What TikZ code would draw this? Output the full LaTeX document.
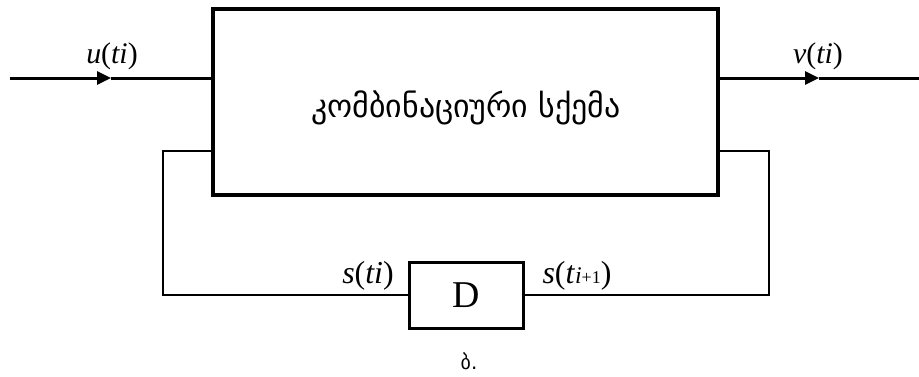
\documentclass[tikz,border=0pt]{standalone}
\usepackage{fontspec}
\setmainfont{Liberation Serif}
\newfontfamily\geofont[Script=Georgian]{DejaVu Sans}
\usetikzlibrary{arrows.meta}
\definecolor{ink}{HTML}{000000}

\begin{document}
\begin{tikzpicture}[x=1bp,y=-1bp,
  blockbox/.style={draw=ink,line width=3.2bp,inner sep=0pt},
  wire/.style={draw=ink,line width=3bp},
  loopwire/.style={draw=ink,line width=2bp},
  midtip/.style={-{Triangle[length=14bp,width=13bp]}},
  lbl/.style={anchor=base,inner sep=0pt,font=\fontsize{30}{34}\selectfont}]
\useasboundingbox (0,0) rectangle (919,376);
\node[blockbox,minimum width=505bp,minimum height=186bp] (comb) at (465.5,102) {};
\node[anchor=base,inner sep=0pt,font=\geofont\fontsize{32}{36}\selectfont] (combtxt) at (466,117) {კომბინაციური სქემა};
\node[blockbox,line width=3bp,minimum width=114bp,minimum height=66bp,font=\fontsize{38}{42}\selectfont] (delay) at (466,295) {D};
\coordinate (in) at (10,78);
\coordinate (inarr) at (111,78);
\coordinate (out) at (919,78);
\coordinate (outarr) at (819,78);
\coordinate (fbL) at (163,151);
\coordinate (fbR) at (769,151);
\draw[wire,midtip] (in) -- (inarr);
\draw[wire] (inarr) -- (comb.west |- in);
\draw[wire,midtip] (comb.east |- out) -- (outarr);
\draw[wire] (outarr) -- (out);
\draw[loopwire] (comb.west |- fbL) -- (fbL) |- (delay.west);
\draw[loopwire] (comb.east |- fbR) -- (fbR) |- (delay.east);
\node[lbl] (ulbl) at (112,63) {\textit{u}(\textit{ti})};
\node[lbl] (vlbl) at (818,63) {\textit{v}(\textit{ti})};
\node[lbl,font=\fontsize{32}{36}\selectfont] (slbl) at (368,283) {\textit{s}(\textit{ti})};
\node[lbl,font=\fontsize{32}{36}\selectfont] (snext) at (577,283) {\textit{s}(\textit{t}{\fontsize{24}{26}\selectfont\textit{i}{\fontsize{18}{20}\selectfont+1}})};
\node[anchor=base,inner sep=0pt,font=\geofont\fontsize{20}{24}\selectfont] (cap) at (469,369) {ბ.};
\end{tikzpicture}
\end{document}
